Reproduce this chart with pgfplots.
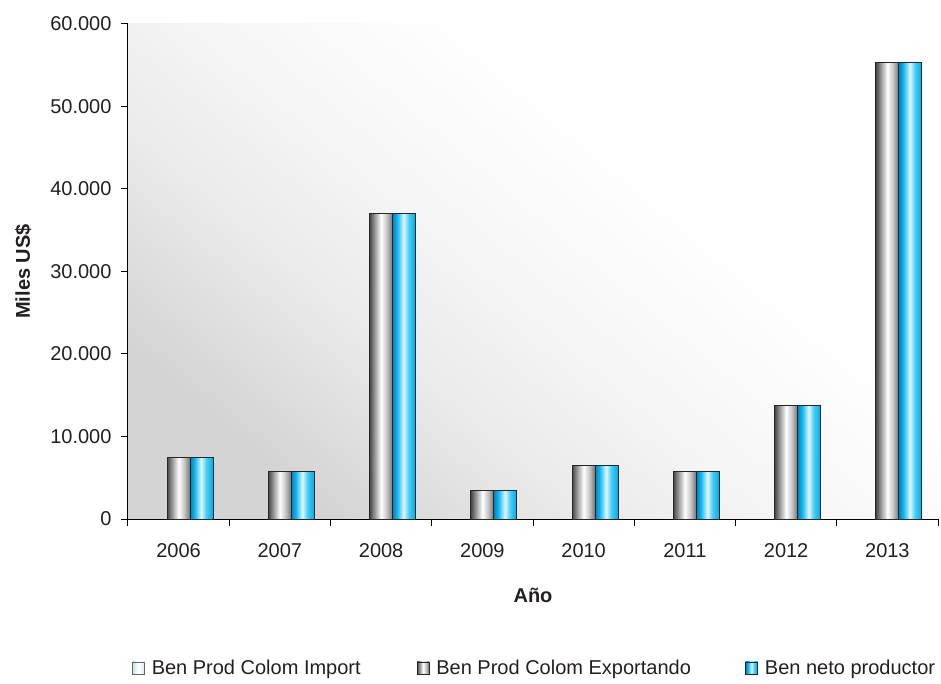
\documentclass[border=0pt]{standalone}
\usepackage{pgfplots}
\pgfplotsset{compat=1.18}
\usepackage{fontspec}
\setmainfont{Liberation Sans}

\definecolor{txt}{RGB}{35,31,32}
% bar shadings (visible part is 25bp..75bp)
\pgfdeclarehorizontalshading{graybar}{100bp}{color(0bp)=(black!72); color(25bp)=(black!72); color(36bp)=(black!40); color(50bp)=(white); color(62bp)=(black!22); color(75bp)=(black!55); color(100bp)=(black!55)}
\pgfdeclarehorizontalshading{cyanbar}{100bp}{color(0bp)=(rgb,255:red,0;green,130;blue,190); color(25bp)=(rgb,255:red,0;green,130;blue,190); color(35bp)=(rgb,255:red,20;green,185;blue,240); color(49bp)=(rgb,255:red,225;green,247;blue,255); color(60bp)=(rgb,255:red,70;green,205;blue,245); color(75bp)=(rgb,255:red,0;green,170;blue,232); color(100bp)=(rgb,255:red,0;green,170;blue,232)}
\pgfdeclarehorizontalshading{lightbar}{100bp}{color(0bp)=(rgb,255:red,200;green,225;blue,235); color(25bp)=(rgb,255:red,200;green,225;blue,235); color(50bp)=(white); color(75bp)=(rgb,255:red,215;green,235;blue,242); color(100bp)=(rgb,255:red,215;green,235;blue,242)}
% plot area: grey at the lower left, white towards the upper right
\pgfdeclareverticalshading{plotbg}{100bp}{color(0bp)=(black!17); color(25bp)=(black!17); color(38bp)=(black!8); color(50bp)=(black!3); color(62bp)=(white); color(100bp)=(white)}

\pgfplotsset{
  expbar/.style={ybar, bar width=0.227, bar shift=0, draw=black!85, line width=1pt, shading=graybar},
  netbar/.style={ybar, bar width=0.227, bar shift=0.227, draw=black!85, line width=1pt, shading=cyanbar},
}

\begin{document}
\begin{tikzpicture}
\path[use as bounding box] (-128pt,-165pt) rectangle (813pt,519pt);
\begin{axis}[
  scale only axis,
  width=810pt, height=495pt,
  xmin=-0.5, xmax=7.5,
  ymin=0, ymax=60000,
  ytick={0,10000,...,60000},
  xtick={0,...,7},
  xticklabels={2006,2007,2008,2009,2010,2011,2012,2013},
  minor xtick={-0.5,0.5,...,7.5},
  major x tick style={draw=none},
  minor tick length=7pt,
  major tick length=7pt,
  axis x line*=bottom, axis y line*=left,
  axis line style={black, line width=1pt},
  every tick/.style={black, line width=1pt},
  xtick align=outside, ytick align=outside,
  tick label style={font=\fontsize{20}{24}\selectfont, text=txt},
  /pgf/number format/assume math mode=true,
  /pgf/number format/.cd, 1000 sep={.}, /pgfplots/.cd,
  scaled y ticks=false,
  xticklabel style={yshift=-14pt},
  yticklabel style={xshift=-6pt},
  xlabel={Año}, ylabel={Miles US\$},
  label style={font=\fontsize{20}{24}\selectfont\bfseries, text=txt},
  xlabel style={yshift=-24pt},
  ylabel style={yshift=12pt},
  axis background/.style={shading=plotbg, shading angle=-40},
  legend columns=3,
  legend style={at={(0.502,-0.301)}, anchor=center, draw=none, fill=none,
    font=\fontsize{20}{24}\selectfont, text=txt,
    /tikz/every even column/.append style={column sep=0pt}},
  legend cell align=left,
  legend image code/.code={\draw[#1, line width=0.6pt] (0pt,-6pt) rectangle (12pt,6pt);},
]
% Ben Prod Colom Import (all zero, so no bar shows)
\addplot[ybar, bar width=0.227, bar shift=-0.227, draw=none, fill=none, forget plot]
  coordinates {(0,0)(1,0)(2,0)(3,0)(4,0)(5,0)(6,0)(7,0)};
\addlegendimage{draw=black!60, shading=lightbar}
\addlegendentry{\makebox[268pt][l]{\hspace{5pt}Ben Prod Colom Import}}
% Ben Prod Colom Exportando (one plot per bar, so each bar gets its own shading)
\addplot[expbar] coordinates {(0,7400)};
\addlegendentry{\makebox[312pt][l]{\hspace{5pt}Ben Prod Colom Exportando}}
% Ben neto productor
\addplot[netbar] coordinates {(0,7400)};
\addlegendentry{\hspace{5pt}Ben neto productor}
\addplot[expbar, forget plot] coordinates {(1,5800)};
\addplot[netbar, forget plot] coordinates {(1,5800)};
\addplot[expbar, forget plot] coordinates {(2,37000)};
\addplot[netbar, forget plot] coordinates {(2,37000)};
\addplot[expbar, forget plot] coordinates {(3,3400)};
\addplot[netbar, forget plot] coordinates {(3,3400)};
\addplot[expbar, forget plot] coordinates {(4,6500)};
\addplot[netbar, forget plot] coordinates {(4,6500)};
\addplot[expbar, forget plot] coordinates {(5,5800)};
\addplot[netbar, forget plot] coordinates {(5,5800)};
\addplot[expbar, forget plot] coordinates {(6,13800)};
\addplot[netbar, forget plot] coordinates {(6,13800)};
\addplot[expbar, forget plot] coordinates {(7,55300)};
\addplot[netbar, forget plot] coordinates {(7,55300)};
\end{axis}
\end{tikzpicture}
\end{document}
